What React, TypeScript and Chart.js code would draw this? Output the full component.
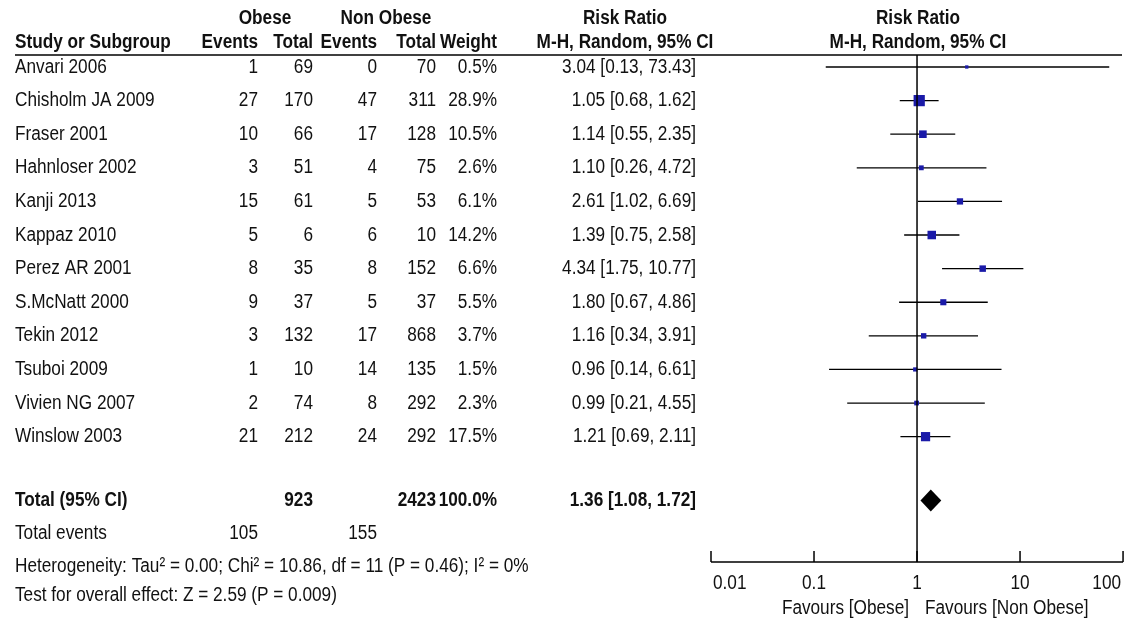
import React, { useEffect, useRef } from 'react';
import { Chart, registerables } from 'chart.js';

Chart.register(...registerables);

const studies = ['Anvari 2006', 'Chisholm JA 2009', 'Fraser 2001', 'Hahnloser 2002', 'Kanji 2013', 'Kappaz 2010', 'Perez AR 2001', 'S.McNatt 2000', 'Tekin 2012', 'Tsuboi 2009', 'Vivien NG 2007', 'Winslow 2003'];
const obeseEvents = [1, 27, 10, 3, 15, 5, 8, 9, 3, 1, 2, 21];
const obeseTotal = [69, 170, 66, 51, 61, 6, 35, 37, 132, 10, 74, 212];
const nonEvents = [0, 47, 17, 4, 5, 6, 8, 5, 17, 14, 8, 24];
const nonTotal = [70, 311, 128, 75, 53, 10, 152, 37, 868, 135, 292, 292];
const weights = [0.5, 28.9, 10.5, 2.6, 6.1, 14.2, 6.6, 5.5, 3.7, 1.5, 2.3, 17.5];
const rr = [3.04, 1.05, 1.14, 1.10, 2.61, 1.39, 4.34, 1.80, 1.16, 0.96, 0.99, 1.21];
const lo = [0.13, 0.68, 0.55, 0.26, 1.02, 0.75, 1.75, 0.67, 0.34, 0.14, 0.21, 0.69];
const hi = [73.43, 1.62, 2.35, 4.72, 6.69, 2.58, 10.77, 4.86, 3.91, 6.61, 4.55, 2.11];
const total = { rr: 1.36, lo: 1.08, hi: 1.72, obese: 923, non: 2423, obeseEv: 105, nonEv: 155 };
const xTicks = [0.01, 0.1, 1, 10, 100];
const totalRow = 12.9;

const FONT = '"Liberation Sans", Arial, sans-serif';
const SQUEEZE = 0.86; // fake a narrow face
const f2 = (v: number) => v.toFixed(2);

const tablePlugin = {
  id: 'table',
  afterDraw(chart: any) {
    const ctx = chart.ctx as CanvasRenderingContext2D;
    const xs = chart.scales.x;
    const ys = chart.scales.y;
    const ca = chart.chartArea;
    ctx.save();
    ctx.fillStyle = '#111';
    ctx.strokeStyle = '#000';
    ctx.textBaseline = 'middle';
    const txt = (s: string, x: number, y: number, align: CanvasTextAlign = 'left', bold = false) => {
      ctx.save();
      ctx.font = `${bold ? 'bold ' : ''}20px ${FONT}`;
      ctx.textAlign = align;
      ctx.translate(x, y);
      ctx.scale(SQUEEZE, 1);
      ctx.fillText(s, 0, 0);
      ctx.restore();
    };
    // headers
    txt('Obese', 265, 18, 'center', true);
    txt('Non Obese', 386, 18, 'center', true);
    txt('Risk Ratio', 625, 18, 'center', true);
    txt('Risk Ratio', 918, 18, 'center', true);
    txt('Study or Subgroup', 15, 42, 'left', true);
    txt('Events', 258, 42, 'right', true);
    txt('Total', 313, 42, 'right', true);
    txt('Events', 377, 42, 'right', true);
    txt('Total', 436, 42, 'right', true);
    txt('Weight', 497, 42, 'right', true);
    txt('M-H, Random, 95% CI', 625, 42, 'center', true);
    txt('M-H, Random, 95% CI', 918, 42, 'center', true);
    ctx.lineWidth = 1.5;
    ctx.beginPath();
    ctx.moveTo(15, 55);
    ctx.lineTo(1122, 55);
    ctx.stroke();
    studies.forEach((s, i) => {
      const y = ys.getPixelForValue(i);
      txt(s, 15, y);
      txt(String(obeseEvents[i]), 258, y, 'right');
      txt(String(obeseTotal[i]), 313, y, 'right');
      txt(String(nonEvents[i]), 377, y, 'right');
      txt(String(nonTotal[i]), 436, y, 'right');
      txt(weights[i].toFixed(1) + '%', 497, y, 'right');
      txt(`${f2(rr[i])} [${f2(lo[i])}, ${f2(hi[i])}]`, 696, y, 'right');
    });
    const ty = ys.getPixelForValue(totalRow);
    txt('Total (95% CI)', 15, ty, 'left', true);
    txt(String(total.obese), 313, ty, 'right', true);
    txt(String(total.non), 436, ty, 'right', true);
    txt('100.0%', 497, ty, 'right', true);
    txt(`${f2(total.rr)} [${f2(total.lo)}, ${f2(total.hi)}]`, 696, ty, 'right', true);
    txt('Total events', 15, 533);
    txt(String(total.obeseEv), 258, 533, 'right');
    txt(String(total.nonEv), 377, 533, 'right');
    txt('Heterogeneity: Tau\u00b2 = 0.00; Chi\u00b2 = 10.86, df = 11 (P = 0.46); I\u00b2 = 0%', 15, 566);
    txt('Test for overall effect: Z = 2.59 (P = 0.009)', 15, 595);

    // null line
    const x1 = xs.getPixelForValue(1);
    ctx.lineWidth = 1.5;
    ctx.beginPath();
    ctx.moveTo(x1, ca.top);
    ctx.lineTo(x1, ca.bottom);
    ctx.stroke();
    // x axis
    ctx.beginPath();
    ctx.moveTo(ca.left, ca.bottom);
    ctx.lineTo(ca.right, ca.bottom);
    xTicks.forEach((t) => {
      const px = xs.getPixelForValue(t);
      ctx.moveTo(px, ca.bottom);
      ctx.lineTo(px, ca.bottom - 11);
    });
    ctx.stroke();
    xTicks.forEach((t) => {
      const px = xs.getPixelForValue(t);
      txt(String(t), t === 100 ? px - 2 : t === 0.01 ? px + 2 : px, 583, t === 100 ? 'right' : t === 0.01 ? 'left' : 'center');
    });
    txt('Favours [Obese]', x1 - 8, 608, 'right');
    txt('Favours [Non Obese]', x1 + 8, 608, 'left');
    // diamond
    ctx.fillStyle = '#000';
    ctx.beginPath();
    ctx.moveTo(xs.getPixelForValue(total.lo), ty);
    ctx.lineTo(xs.getPixelForValue(total.rr), ty - 11);
    ctx.lineTo(xs.getPixelForValue(total.hi), ty);
    ctx.lineTo(xs.getPixelForValue(total.rr), ty + 11);
    ctx.closePath();
    ctx.fill();
    ctx.restore();
  },
};

const App: React.FC = () => {
  const chartRef = useRef<HTMLCanvasElement>(null);
  const chartInstance = useRef<Chart | null>(null);

  useEffect(() => {
    if (!chartRef.current) return;
    if (chartInstance.current) chartInstance.current.destroy();
    const ciSets = studies.map((s, i) => ({
      type: 'line' as const,
      label: s,
      data: [{ x: lo[i], y: i }, { x: hi[i], y: i }],
      borderColor: '#000',
      borderWidth: 1.3,
      pointRadius: 0,
      order: 2,
    }));
    chartInstance.current = new Chart(chartRef.current, {
      type: 'scatter',
      data: {
        datasets: [
          {
            label: 'Risk Ratio',
            data: rr.map((v, i) => ({ x: v, y: i })),
            pointStyle: 'rect',
            pointRadius: weights.map((w) => 1.5 + Math.sqrt(w) * 1.2),
            backgroundColor: '#1a1aa8',
            borderColor: '#1a1aa8',
            borderWidth: 0,
            order: 1,
          },
          ...ciSets,
        ] as any,
      },
      options: {
        animation: false,
        responsive: false,
        layout: { padding: { left: 711, right: 4, top: 55, bottom: 59 } },
        plugins: { legend: { display: false }, tooltip: { enabled: false } },
        scales: {
          x: { type: 'logarithmic', min: 0.01, max: 100, display: false },
          y: { type: 'linear', min: -0.357, max: 14.73, reverse: true, display: false },
        },
      },
      plugins: [tablePlugin],
    });
    return () => {
      if (chartInstance.current) {
        chartInstance.current.destroy();
        chartInstance.current = null;
      }
    };
  }, []);

  return (
    <div style={{ position: 'fixed', left: 0, top: 0, width: 1131, height: 621, background: '#fff' }}>
      <canvas ref={chartRef} width={1131} height={621} style={{ width: 1131, height: 621 }} />
    </div>
  );
};

export default App;
